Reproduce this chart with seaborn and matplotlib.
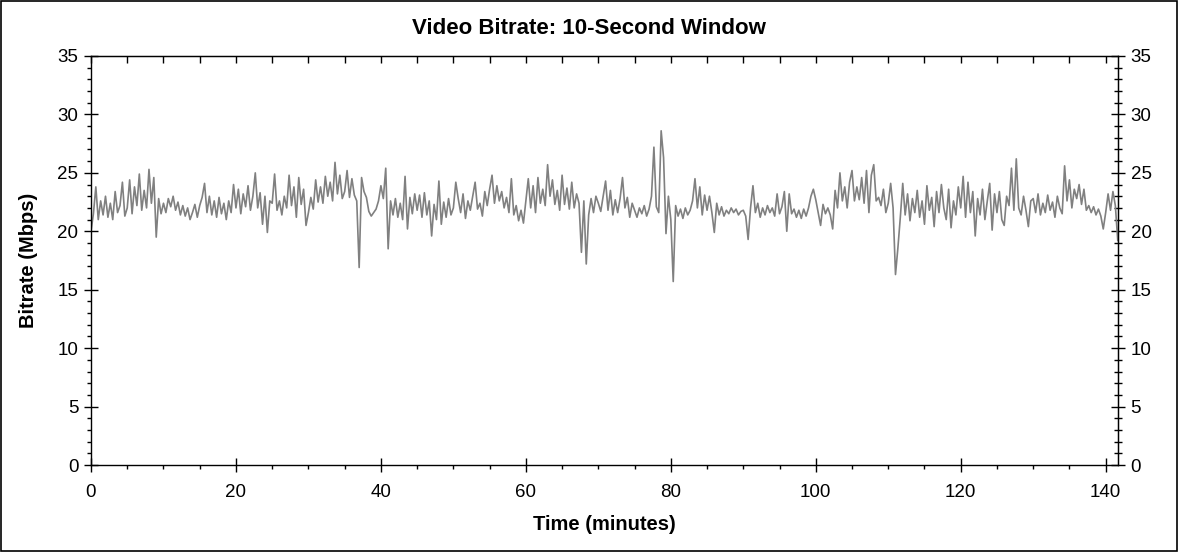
"""
Video bitrate over time (10-second window), redrawn from a bitrate report.
"""

import numpy as np
import pandas as pd
import seaborn as sns
import matplotlib.pyplot as plt
from matplotlib.ticker import MultipleLocator

# Sample step of the series, in minutes (one reading every 20 s)
STEP_MIN = 1 / 3

# Bitrate in Mbps, 15 readings (5 minutes) per row
bitrate_mbps = [
    20.0, 21.5, 23.8, 21.0, 22.6, 21.4, 23.0, 21.2, 22.4, 21.0, 23.4, 21.6, 22.2, 24.2, 21.3,
    22.0, 24.4, 21.5, 23.8, 22.2, 24.9, 21.8, 23.5, 22.0, 25.3, 22.4, 24.6, 19.5, 22.8, 21.5,
    22.4, 21.6, 22.8, 22.1, 23.0, 21.8, 22.5, 21.4, 22.2, 21.3, 22.0, 21.0, 21.6, 22.3, 21.2,
    22.2, 22.9, 24.1, 21.6, 23.0, 21.4, 22.6, 21.2, 22.9, 21.5, 22.4, 21.0, 22.6, 21.6, 24.0,
    22.0, 23.6, 21.5, 23.2, 22.1, 23.9, 21.8, 23.0, 25.0, 22.0, 23.3, 20.6, 23.0, 19.9, 22.6,
    22.4, 24.9, 21.8, 22.6, 21.4, 23.0, 22.0, 24.8, 22.2, 23.8, 21.2, 24.6, 22.3, 23.6, 20.5,
    21.6, 22.9, 21.9, 24.4, 22.5, 23.8, 22.4, 24.7, 23.0, 24.2, 22.6, 25.9, 23.2, 24.8, 22.8,
    23.4, 25.2, 22.9, 24.5, 23.1, 22.6, 16.9, 24.6, 23.4, 22.9, 21.7, 21.3, 21.6, 21.9, 22.6,
    23.9, 22.8, 25.4, 18.5, 22.6, 21.4, 22.8, 21.2, 22.4, 21.0, 24.7, 20.2, 22.9, 21.5, 23.2,
    21.8, 23.1, 21.2, 23.3, 21.4, 22.6, 19.6, 22.3, 21.0, 24.3, 20.6, 22.5, 21.2, 22.8, 21.4,
    22.0, 24.2, 22.8, 21.6, 23.2, 21.1, 22.6, 21.8, 23.0, 24.2, 21.9, 22.4, 21.3, 23.4, 22.2,
    23.6, 24.8, 22.4, 23.9, 22.6, 23.4, 22.0, 22.9, 21.6, 24.5, 21.4, 22.2, 20.9, 21.8, 20.7,
    22.6, 24.5, 22.0, 23.9, 21.6, 24.6, 22.4, 23.6, 22.2, 25.7, 23.0, 24.4, 22.3, 23.5, 21.8,
    24.8, 22.3, 23.7, 21.9, 24.2, 22.0, 23.2, 22.4, 18.2, 22.6, 17.2, 21.4, 22.8, 21.6, 23.0,
    22.4, 21.7, 23.0, 24.3, 21.8, 23.5, 21.4, 22.7, 21.6, 22.8, 24.6, 22.0, 22.9, 21.2, 22.4,
    21.8, 21.2, 22.0, 21.5, 22.2, 21.3, 21.9, 23.0, 27.2, 22.1, 21.6, 28.6, 26.3, 19.8, 23.0,
    21.0, 15.7, 22.2, 21.3, 21.9, 21.1, 22.0, 21.4, 21.8, 22.6, 24.5, 22.0, 23.8, 21.4, 23.1,
    21.8, 23.0, 21.6, 19.9, 22.4, 21.4, 22.1, 21.3, 21.8, 21.5, 22.0, 21.6, 21.9, 21.4, 21.7,
    21.8, 21.3, 19.3, 22.0, 23.9, 21.6, 22.4, 21.2, 22.0, 21.4, 22.2, 21.6, 22.0, 21.3, 23.2,
    21.5, 22.1, 23.4, 20.0, 23.2, 21.5, 21.9, 21.2, 21.8, 21.1, 21.9, 21.3, 22.0, 23.0, 23.6,
    22.7, 21.6, 20.5, 22.3, 21.5, 22.0, 21.4, 20.2, 23.5, 22.0, 25.0, 22.6, 23.8, 22.0, 24.2,
    25.2, 22.6, 23.8, 22.7, 24.6, 22.4, 25.2, 21.6, 24.8, 25.7, 22.6, 22.9, 22.2, 23.6, 21.6,
    22.4, 24.1, 22.0, 16.3, 18.6, 21.2, 24.1, 21.4, 23.2, 20.9, 22.8, 21.6, 23.5, 21.2, 22.6,
    20.6, 23.9, 21.8, 22.9, 20.4, 23.4, 21.6, 24.0, 22.0, 21.0, 23.6, 20.3, 22.6, 21.4, 23.8,
    22.0, 24.7, 21.2, 24.2, 21.6, 23.4, 19.6, 22.8, 21.4, 23.6, 21.0, 22.6, 24.1, 20.1, 23.2,
    21.6, 23.4, 21.0, 20.5, 23.0, 22.2, 25.4, 21.8, 26.2, 22.0, 21.4, 23.0, 21.8, 20.4, 22.6,
    22.8, 21.6, 23.2, 21.4, 22.4, 21.6, 23.1, 21.8, 22.5, 21.2, 23.0, 22.0, 21.5, 25.6, 22.6,
    24.4, 22.0, 23.6, 22.8, 24.0, 22.3, 23.6, 21.8, 22.2, 21.6, 22.1, 21.4, 21.9, 21.3, 20.2,
    21.6, 23.2, 21.8, 23.4, 22.2, 19.2,
]

X_TICKS = [0, 20, 40, 60, 80, 100, 120, 140]
Y_TICKS = [0, 5, 10, 15, 20, 25, 30, 35]
X_MAX = 141.7

df = pd.DataFrame({"bitrate": bitrate_mbps})
df["minutes"] = np.arange(len(df)) * STEP_MIN

sns.set_style("white")
plt.rcParams["font.family"] = ["Liberation Sans", "DejaVu Sans"]
plt.rcParams["text.color"] = "black"
plt.rcParams["axes.labelcolor"] = "black"
plt.rcParams["xtick.color"] = "black"
plt.rcParams["ytick.color"] = "black"

fig = plt.figure(figsize=(11.78, 5.52), dpi=100)
ax = fig.add_axes([91 / 1178, 1 - 465 / 552, (1118 - 91) / 1178, (465 - 56) / 552])

sns.lineplot(data=df, x="minutes", y="bitrate", color="#808080", linewidth=1.2, ax=ax)

ax.set_xlim(0, X_MAX)
ax.set_ylim(0, 35)
ax.set_xticks(X_TICKS)
ax.set_yticks(Y_TICKS)
ax.xaxis.set_minor_locator(MultipleLocator(5))
ax.yaxis.set_minor_locator(MultipleLocator(1))

for s in ax.spines.values():
    s.set_color("black")
    s.set_linewidth(1.0)

ax.tick_params(which="both", bottom=True, left=True, top=False, right=False,
               colors="black")
ax.tick_params(which="major", direction="inout", length=10, width=1, labelsize=13.5)
ax.tick_params(axis="x", which="major", pad=9)
ax.tick_params(axis="y", which="major", pad=4)
ax.tick_params(which="minor", direction="out", length=3, width=1)

# top axis: ticks only, pointing in
top = ax.secondary_xaxis("top")
top.set_xticks(X_TICKS)
top.xaxis.set_minor_locator(MultipleLocator(5))
top.tick_params(which="both", top=True, labeltop=False, colors="black")
top.tick_params(which="major", direction="in", length=5, width=1)
top.tick_params(which="minor", direction="in", length=5, width=1)

# right axis: mirrored labels
right = ax.secondary_yaxis("right")
right.set_yticks(Y_TICKS)
right.yaxis.set_minor_locator(MultipleLocator(1))
right.tick_params(which="both", right=True, colors="black")
right.tick_params(which="major", direction="inout", length=10, width=1, labelsize=13.5, pad=4)
right.tick_params(which="minor", direction="inout", length=6, width=1)

ax.set_xlabel("Time (minutes)", fontsize=14.5, fontweight="bold", labelpad=10, color="black")
ax.set_ylabel("Bitrate (Mbps)", fontsize=14.5, fontweight="bold", labelpad=14, color="black")
fig.suptitle("Video Bitrate: 10-Second Window", fontsize=16, fontweight="bold", y=0.967,
             color="black")

# thin frame round the whole picture
fig.add_artist(plt.Rectangle((0.001, 0.002), 0.998, 0.996, transform=fig.transFigure,
                             fill=False, edgecolor="black", linewidth=1.2))

fig.savefig("out.png", dpi=100)
